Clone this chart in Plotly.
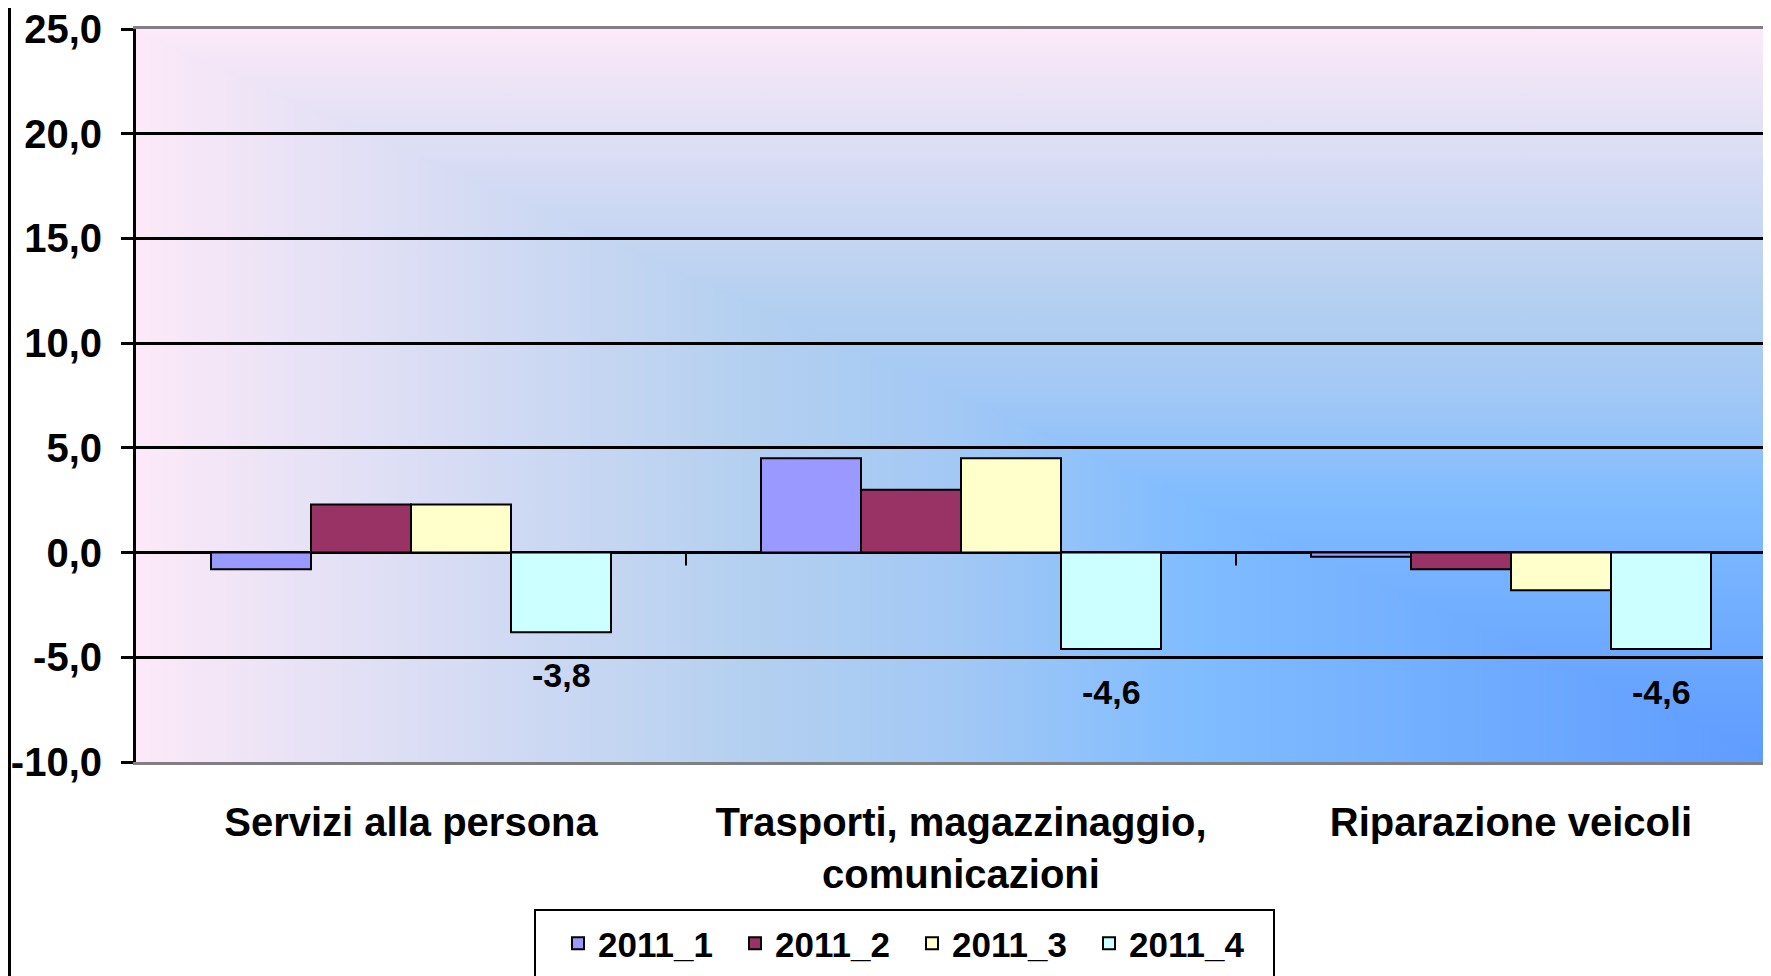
import base64
import plotly.graph_objects as go

# ---------------- data ----------------
categories = ["Servizi alla persona", "Trasporti, magazzinaggio,<br>comunicazioni", "Riparazione veicoli"]
series_names = ["2011_1", "2011_2", "2011_3", "2011_4"]
v2011_1 = [-0.8, 4.5, -0.2]
v2011_2 = [2.3, 3.0, -0.8]
v2011_3 = [2.3, 4.5, -1.8]
v2011_4 = [-3.8, -4.6, -4.6]
y_tick_vals = [-10, -5, 0, 5, 10, 15, 20, 25]
y_tick_labels = ["-10,0", "-5,0", "0,0", "5,0", "10,0", "15,0", "20,0", "25,0"]
labelled_series = "2011_4"

# ---------------- style ----------------
series_values = [v2011_1, v2011_2, v2011_3, v2011_4]
colors = ["#9999FF", "#993366", "#FFFFCC", "#CCFFFF"]
FONT = "Liberation Sans Narrow, Arial Narrow, Liberation Sans, Arial, sans-serif"
BARGAP = 1.5 / 5.5
W, H = 1763, 968          # page body adds an 8px margin
ML, MT, MB = 128, 21, 214
PW = W - ML               # plot width in px
PH = H - MT - MB          # plot height in px

# gradient background (rectangular "from corner" gradient)
stops = [(0, "#FCE9F8"), (37, "#B4D0F0"), (50, "#A2C8F5"), (64, "#80BCFF"), (100, "#5E9BFF")]
stop_xml = "".join(f'<stop offset="{o}%" stop-color="{c}"/>' for o, c in stops)
svg = (
    '<svg xmlns="http://www.w3.org/2000/svg" width="1000" height="1000" viewBox="0 0 100 100" preserveAspectRatio="none">'
    f'<defs><linearGradient id="h" gradientUnits="userSpaceOnUse" x1="0" y1="0" x2="100" y2="0">{stop_xml}</linearGradient>'
    f'<linearGradient id="v" gradientUnits="userSpaceOnUse" x1="0" y1="0" x2="0" y2="100">{stop_xml}</linearGradient></defs>'
    '<polygon points="0,0 100,100 0,100" fill="url(#h)"/>'
    '<polygon points="-0.5,0 100,0 100,100.5" fill="url(#v)"/>'
    '<polygon points="0,0 100,0 100,100" fill="url(#v)"/>'
    '</svg>'
)
svg_uri = "data:image/svg+xml;base64," + base64.b64encode(svg.encode()).decode()

fig = go.Figure()
for name, vals, col in zip(series_names, series_values, colors):
    fig.add_trace(go.Bar(
        name=name, x=categories, y=vals,
        marker=dict(color=col, line=dict(color="black", width=2)),
    ))

# data labels for the last series
idx = series_names.index(labelled_series)
group_w = 1 - BARGAP
offset = -group_w / 2 + group_w / len(series_names) * (idx + 0.5)
for i, v in enumerate(series_values[idx]):
    fig.add_annotation(
        x=i + offset, y=v, xref="x", yref="y",
        text=f"{v:.1f}".replace(".", ","), showarrow=False,
        yanchor="middle", yshift=-43,
        font=dict(family=FONT, size=34, color="black", weight="bold"),
    )

# category tick marks on the zero line
for i in range(len(categories) - 1):
    fig.add_shape(type="line", xref="x", yref="y", x0=i + 0.5, x1=i + 0.5, y0=0, y1=-0.62,
                  line=dict(color="black", width=2))

# chart-area left border
fig.add_shape(type="line", xref="paper", yref="paper", x0=(1.5 - ML) / PW, x1=(1.5 - ML) / PW,
              y0=-0.35, y1=1.1, line=dict(color="black", width=3))

# legend frame
fig.add_shape(type="rect", xref="paper", yref="paper",
              x0=(527 - ML) / PW, x1=(1266 - ML) / PW,
              y0=-(902 - MT - PH) / PH, y1=-(990 - MT - PH) / PH,
              fillcolor="white", line=dict(color="black", width=2), layer="below")

fig.add_layout_image(dict(source=svg_uri, xref="paper", yref="paper", x=0, y=1,
                          sizex=1.0092, sizey=1, sizing="stretch", layer="below"))

fig.update_layout(
    width=W, height=H,
    margin=dict(l=ML, r=0, t=MT, b=MB, autoexpand=False),
    paper_bgcolor="white", plot_bgcolor="rgba(0,0,0,0)",
    barmode="group", bargap=BARGAP, bargroupgap=0,
    font=dict(family=FONT, color="black", weight="bold"),
    showlegend=True,
    legend=dict(orientation="h", x=(550 - ML) / PW, xanchor="left",
                y=-(906 - MT - PH) / PH, yanchor="top",
                bgcolor="rgba(0,0,0,0)", borderwidth=0,
                font=dict(family=FONT, size=35, color="black", weight="bold"),
                entrywidth=132, entrywidthmode="pixels", traceorder="normal"),
    xaxis=dict(range=[-0.5, -0.5 + PW / 550], showgrid=False, showline=True, mirror=True,
               linecolor="#808080", linewidth=3, ticks="", fixedrange=True,
               tickfont=dict(family=FONT, size=40, color="black", weight="bold"),
               ticklabelstandoff=23, ticklabeloverflow="allow"),
    yaxis=dict(range=[-10, 25], tickvals=y_tick_vals, ticktext=y_tick_labels,
               showgrid=True, gridcolor="black", gridwidth=2.5,
               zeroline=True, zerolinecolor="black", zerolinewidth=3,
               showline=True, linecolor="black", linewidth=3,
               ticks="outside", ticklen=12, tickwidth=2.5, tickcolor="black",
               ticklabelstandoff=11, ticklabeloverflow="allow",
               tickfont=dict(family=FONT, size=40, color="black", weight="bold")),
)

fig.write_html("out.html")
